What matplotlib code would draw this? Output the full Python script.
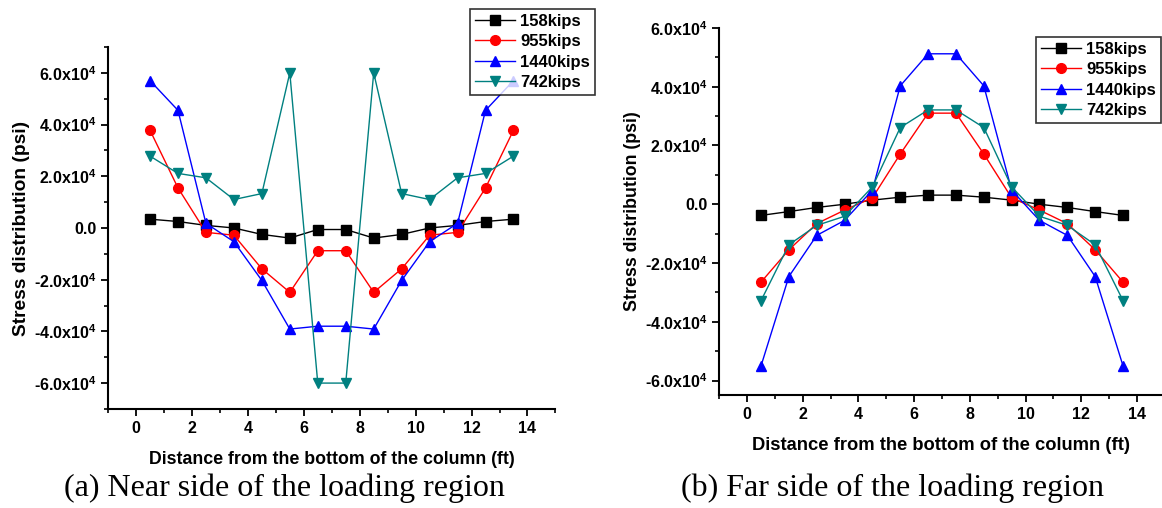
import matplotlib
matplotlib.use("Agg")
import matplotlib.pyplot as plt
from matplotlib.ticker import MultipleLocator, FuncFormatter

plt.rcParams['font.family'] = ['Liberation Sans', 'DejaVu Sans']
plt.rcParams['mathtext.fontset'] = 'custom'
plt.rcParams['mathtext.rm'] = 'Liberation Sans:bold'
plt.rcParams['mathtext.bf'] = 'Liberation Sans:bold'
plt.rcParams['mathtext.default'] = 'bf'

# distance from the bottom of the column (ft)
x = [0.5, 1.5, 2.5, 3.5, 4.5, 5.5, 6.5, 7.5, 8.5, 9.5, 10.5, 11.5, 12.5, 13.5]
labels = ['158kips', '955kips', '1440kips', '742kips']

# (a) near side of the loading region (psi)
near_158 = [3400, 2500, 1000, 0, -2500, -3900, -600, -600, -3900, -2500, 0, 1000, 2500, 3400]
near_955 = [37800, 15500, -1700, -2800, -15800, -24900, -8800, -8800, -24900, -15800, -2800, -1700, 15500, 37800]
near_1440 = [57000, 45500, 1800, -5300, -20300, -39100, -38000, -38000, -39100, -20300, -5300, 1800, 45500, 57000]
near_742 = [27800, 21100, 19400, 11000, 13300, 60000, -60000, -60000, 60000, 13300, 11000, 19400, 21100, 27800]

# (b) far side of the loading region (psi)
far_158 = [-3800, -2500, -1100, 0, 1400, 2400, 3100, 3100, 2400, 1400, 0, -1100, -2500, -3800]
far_955 = [-26500, -15500, -6600, -2000, 2200, 17100, 31000, 31000, 17100, 2200, -2000, -6600, -15500, -26500]
far_1440 = [-55000, -24600, -10600, -5500, 4800, 40300, 51200, 51200, 40300, 4800, -5500, -10600, -24600, -55000]
far_742 = [-32800, -13800, -7200, -4100, 5900, 26100, 32100, 32100, 26100, 5900, -4100, -7200, -13800, -32800]

colors = ['black', 'red', 'blue', '#008080']
markers = ['s', 'o', '^', 'v']


def fmt(v, pos):
    if abs(v) < 1:
        return '0.0'
    return '%.1fx10$^{4}$' % (v / 1e4)


def style(ax, ylim, xlab_size, ylab_size):
    ax.set_xlim(-1, 15)
    ax.set_ylim(*ylim)
    ax.spines['top'].set_visible(False)
    ax.spines['right'].set_visible(False)
    ax.spines['left'].set_linewidth(1.5)
    ax.spines['bottom'].set_linewidth(1.5)
    ax.xaxis.set_major_locator(MultipleLocator(2))
    ax.xaxis.set_minor_locator(MultipleLocator(1))
    ax.yaxis.set_major_locator(MultipleLocator(20000))
    ax.yaxis.set_minor_locator(MultipleLocator(10000))
    ax.yaxis.set_major_formatter(FuncFormatter(fmt))
    ax.tick_params(which='major', direction='out', length=5, width=1.3, labelsize=11.5)
    ax.tick_params(which='minor', direction='out', length=3, width=1.2)
    for t in ax.get_xticklabels() + ax.get_yticklabels():
        t.set_fontweight('bold')
    ax.set_xlabel('Distance from the bottom of the column (ft)', fontsize=xlab_size,
                  fontweight='bold', labelpad=11)
    ax.set_ylabel('Stress distribution (psi)', fontsize=ylab_size, fontweight='bold', labelpad=3)


fig = plt.figure(figsize=(11.62, 5.08), dpi=100)
ax1 = fig.add_axes([0.093, 0.195, 0.385, 0.7125])
ax2 = fig.add_axes([0.619, 0.222, 0.381, 0.723])

for ys, c, m, lab in zip([near_158, near_955, near_1440, near_742], colors, markers, labels):
    ax1.plot(x, ys, color=c, marker=m, markersize=7, linewidth=1, label=lab)
for ys, c, m, lab in zip([far_158, far_955, far_1440, far_742], colors, markers, labels):
    ax2.plot(x, ys, color=c, marker=m, markersize=7, linewidth=1, label=lab)

style(ax1, (-70000, 70000), 12.8, 13.8)
style(ax2, (-65000, 60000), 13.2, 12.8)
ax2.set_xlim(-1, 14.9)

leg_kw = dict(prop={'weight': 'bold', 'size': 12}, frameon=True, fancybox=False,
              edgecolor='black', borderpad=0.3, labelspacing=0.32, handlelength=2.4,
              handletextpad=0.3, borderaxespad=0)
l1 = ax1.legend(loc='upper right', bbox_to_anchor=(595 / 1162, 1 - 9 / 508),
                bbox_transform=fig.transFigure, **leg_kw)
l2 = ax2.legend(loc='upper right', bbox_to_anchor=(1161 / 1162, 1 - 37 / 508),
                bbox_transform=fig.transFigure, **leg_kw)
for l in (l1, l2):
    l.get_frame().set_linewidth(1.2)

fig.text(0.245, 0.039, '(a) Near side of the loading region', ha='center', va='center',
         fontsize=23, family=['Liberation Serif', 'DejaVu Serif'])
fig.text(0.768, 0.039, '(b) Far side of the loading region', ha='center', va='center',
         fontsize=23, family=['Liberation Serif', 'DejaVu Serif'])

fig.savefig('out.png', dpi=100)
